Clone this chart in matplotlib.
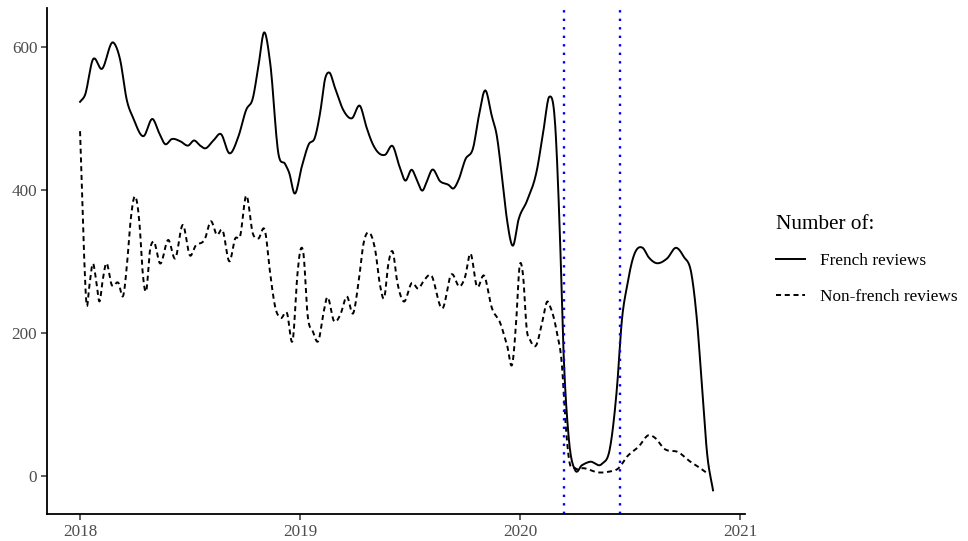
import matplotlib
matplotlib.use("Agg")
import matplotlib.pyplot as plt
import numpy as np

plt.rcParams["font.family"] = ["Liberation Serif", "DejaVu Serif"]

# Years since 2018 and review counts
french_t = [0.000, 0.023, 0.058, 0.099, 0.151, 0.182, 0.212, 0.242, 0.288, 0.330,
            0.360, 0.386, 0.417, 0.455, 0.492, 0.518, 0.545, 0.568, 0.606, 0.640,
            0.679, 0.720, 0.755, 0.785, 0.810, 0.836, 0.864, 0.901, 0.932, 0.951,
            0.974, 1.008, 1.038, 1.068, 1.091, 1.114, 1.132, 1.159, 1.197, 1.235,
            1.273, 1.300, 1.333, 1.386, 1.421, 1.451, 1.477, 1.508, 1.530, 1.556,
            1.576, 1.599, 1.636, 1.674, 1.697, 1.720, 1.750, 1.788, 1.810, 1.841,
            1.871, 1.894, 1.917, 1.940, 1.967, 1.992, 2.030, 2.076, 2.106, 2.132,
            2.159, 2.180, 2.197, 2.220, 2.250, 2.280, 2.318, 2.371, 2.409, 2.440,
            2.462, 2.485, 2.515, 2.556, 2.583, 2.614, 2.667, 2.709, 2.742, 2.780,
            2.803, 2.826, 2.849, 2.876]
french_n = [523, 533, 582, 569, 606, 582, 526, 500, 475, 499,
            479, 464, 471, 468, 462, 469, 462, 458, 469, 478,
            451, 475, 512, 528, 572, 620, 577, 451, 436, 423,
            395, 433, 463, 474, 508, 556, 564, 542, 511, 500,
            517, 489, 462, 449, 461, 433, 413, 428, 414, 399,
            412, 428, 412, 407, 402, 414, 442, 461, 500, 539,
            503, 475, 419, 358, 322, 358, 384, 428, 484, 530,
            490, 340, 172, 55, 8, 15, 20, 17, 41, 125,
            218, 265, 307, 319, 306, 298, 304, 319, 307, 279,
            218, 125, 32, -20]

other_t = [0.000, 0.008, 0.018, 0.030, 0.042, 0.058, 0.073, 0.088, 0.103, 0.118,
           0.144, 0.174, 0.197, 0.215, 0.230, 0.250, 0.270, 0.285, 0.300, 0.318,
           0.333, 0.364, 0.401, 0.432, 0.467, 0.500, 0.523, 0.568, 0.594, 0.622,
           0.647, 0.679, 0.705, 0.727, 0.755, 0.785, 0.810, 0.841, 0.864, 0.886,
           0.912, 0.940, 0.967, 0.988, 1.000, 1.015, 1.033, 1.058, 1.083, 1.106,
           1.121, 1.155, 1.182, 1.212, 1.242, 1.265, 1.288, 1.318, 1.341, 1.364,
           1.382, 1.401, 1.420, 1.442, 1.470, 1.508, 1.538, 1.560, 1.594, 1.649,
           1.685, 1.727, 1.750, 1.773, 1.803, 1.836, 1.871, 1.909, 1.940, 1.965,
           1.982, 1.997, 2.012, 2.030, 2.045, 2.073, 2.099, 2.124, 2.136, 2.151,
           2.167, 2.190, 2.205, 2.220, 2.250, 2.288, 2.356, 2.401, 2.447, 2.485,
           2.538, 2.583, 2.614, 2.651, 2.720, 2.773, 2.818, 2.849]
other_n = [482, 405, 311, 239, 265, 297, 274, 244, 274, 297,
           267, 270, 253, 302, 358, 391, 353, 283, 258, 316,
           328, 297, 330, 304, 351, 308, 321, 332, 356, 337,
           344, 300, 332, 335, 392, 339, 332, 342, 283, 237,
           221, 228, 191, 283, 314, 311, 228, 202, 189, 228,
           249, 216, 225, 251, 228, 270, 325, 339, 316, 265,
           249, 297, 314, 270, 244, 270, 262, 272, 281, 235,
           281, 265, 279, 311, 265, 280, 235, 214, 183, 158,
           218, 293, 283, 204, 190, 183, 214, 244, 237, 223,
           200, 153, 78, 27, 11, 11, 5, 6, 11, 27,
           41, 57, 53, 39, 33, 20, 11, 4]

lockdown_dates = [2020.201, 2020.455]


def smooth(t, n, per=12):
    # cubic Hermite drawing of the line through the read points
    x = 2018 + np.asarray(t, float)
    y = np.asarray(n, float)
    m = np.gradient(y, x)
    xs, ys = [], []
    for i in range(len(x) - 1):
        h = x[i + 1] - x[i]
        s = np.linspace(0, 1, per, endpoint=False)
        h00 = 2 * s**3 - 3 * s**2 + 1
        h10 = s**3 - 2 * s**2 + s
        h01 = -2 * s**3 + 3 * s**2
        h11 = s**3 - s**2
        xs.append(x[i] + s * h)
        ys.append(h00 * y[i] + h10 * h * m[i] + h01 * y[i + 1] + h11 * h * m[i + 1])
    xs.append([x[-1]])
    ys.append([y[-1]])
    return np.concatenate(xs), np.concatenate(ys)


fig = plt.figure(figsize=(9.68, 5.41), dpi=100)
ax = fig.add_axes([0.0486, 0.05, 0.7214, 0.935])

fx, fy = smooth(french_t, french_n)
ox, oy = smooth(other_t, other_n)
ax.plot(fx, fy, color="black", lw=1.4, label="French reviews")
ax.plot(ox, oy, color="black", lw=1.4, linestyle=(0, (2.6, 1.9)),
        label="Non-french reviews")

for d in lockdown_dates:
    ax.axvline(d, color="blue", lw=1.7, linestyle=(0, (1, 2.6)))

ax.set_xlim(2017.85, 2021.023)
ax.set_ylim(-53, 654)
ax.set_xticks([2018, 2019, 2020, 2021])
ax.set_xticklabels(["2018", "2019", "2020", "2021"])
ax.set_yticks([0, 200, 400, 600])

for side in ["top", "right"]:
    ax.spines[side].set_visible(False)
for side in ["left", "bottom"]:
    ax.spines[side].set_linewidth(1.3)
ax.tick_params(axis="both", direction="out", length=4, width=1.1,
               labelsize=12.3, labelcolor="#4D4D4D", color="#333333", pad=3)

leg = ax.legend(loc="upper left", bbox_to_anchor=(0.786, 0.632),
                bbox_transform=fig.transFigure, frameon=False,
                title="Number of:", title_fontsize=15.3, fontsize=12.4,
                handlelength=1.65, handletextpad=0.9, labelspacing=1.15,
                alignment="left")

fig.savefig("out.png", dpi=100)
